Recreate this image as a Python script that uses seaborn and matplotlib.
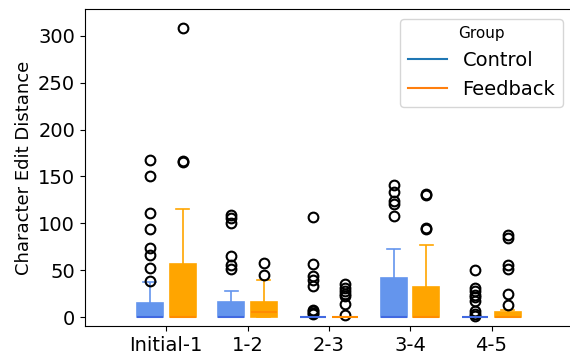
import matplotlib
matplotlib.use("Agg")
import matplotlib.pyplot as plt
from matplotlib.lines import Line2D
import seaborn as sns
import pandas as pd

transitions = ["Initial-1", "1-2", "2-3", "3-4", "4-5"]
groups = ["Control", "Feedback"]

control_init = [0]*21 + [2, 4, 5, 7, 9, 10, 12, 14, 15, 15, 37, 38, 52, 66, 74, 94, 111, 151, 168]
feedback_init = [0]*21 + [5, 10, 18, 25, 30, 38, 45, 50, 57, 57, 62, 70, 80, 95, 104, 115, 165, 166, 308]
control_12 = [0]*21 + [2, 3, 5, 6, 8, 10, 12, 14, 16.5, 16.5, 18, 22, 28, 51, 55, 65, 100, 106, 109]
feedback_12 = [0]*11 + [1, 1, 2, 2, 3, 3, 4, 4, 5, 5, 6, 7, 8, 9, 10, 12, 13, 15, 16, 16,
                        18, 20, 24, 27, 30, 35, 39, 45, 58]
control_23 = [0]*31 + [3, 4, 6, 8, 33, 39, 44, 57, 107]
feedback_23 = [0]*33 + [2, 14, 22, 25, 28, 31, 35]
control_34 = [0]*21 + [3, 6, 10, 15, 20, 25, 30, 36, 42, 42, 45, 52, 60, 73, 108, 121, 124, 133, 141]
feedback_34 = [0]*21 + [2, 4, 8, 12, 16, 20, 25, 28, 32, 32, 35, 42, 50, 60, 77, 94, 95, 130, 131]
control_45 = [0]*31 + [1, 3, 6, 17, 21, 24, 28, 31, 50]
feedback_45 = [0]*21 + [1, 1, 2, 2, 3, 3, 4, 4, 5, 5, 6, 7, 8, 13, 25, 51, 55, 84, 88]

series = {
    "Control": [control_init, control_12, control_23, control_34, control_45],
    "Feedback": [feedback_init, feedback_12, feedback_23, feedback_34, feedback_45],
}

rows = []
for g in groups:
    for t, vals in zip(transitions, series[g]):
        for v in vals:
            rows.append({"Transition": t, "Group": g, "Distance": v})
df = pd.DataFrame(rows)

box_colors = {"Control": "cornflowerblue", "Feedback": "orange"}
median_colors = {"Control": "royalblue", "Feedback": "darkorange"}
legend_colors = {"Control": "tab:blue", "Feedback": "tab:orange"}

fig = plt.figure(figsize=(5.7, 3.58), dpi=100)
ax = fig.add_axes([0.149, 0.0894, 0.856, 0.8855])

for g in groups:
    sns.boxplot(
        data=df[df["Group"] == g], x="Transition", y="Distance",
        hue="Group", hue_order=groups, order=transitions, dodge=True,
        palette=box_colors, linecolor=box_colors[g], linewidth=1.2,
        width=0.8, gap=0.2, saturation=1, legend=False, ax=ax,
        medianprops=dict(color=median_colors[g], linewidth=1.5),
        flierprops=dict(marker="o", markerfacecolor="none",
                        markeredgecolor="black", markersize=7,
                        markeredgewidth=1.5),
    )

ax.set_xlim(-1, 5)
ax.set_ylim(-9.6, 328.8)
ax.set_yticks([0, 50, 100, 150, 200, 250, 300])
ax.tick_params(labelsize=14)
ax.set_xlabel("")
ax.set_ylabel("Character Edit Distance", fontsize=13)

handles = [Line2D([0], [0], color=legend_colors[g], lw=1.5) for g in groups]
ax.legend(handles, groups, title="Group", loc="upper right",
          fontsize=14, title_fontsize=11)

fig.savefig("out.png", dpi=100)
